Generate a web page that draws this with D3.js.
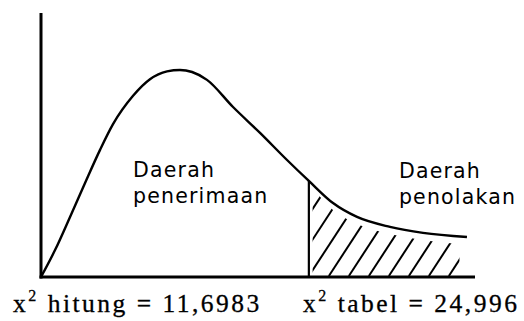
<!DOCTYPE html>
<html>
<head>
<meta charset="utf-8">
<script src="https://cdn.jsdelivr.net/npm/d3@7"></script>
<style>
  html, body { margin: 0; padding: 0; background: #fff; }
  svg { display: block; }
</style>
</head>
<body>
<div id="chart"></div>
<script>
// Chi-square (df = 15) curve as drawn
const chiX = [0, 1.31, 2.71, 4.11, 5.51, 6.72, 8.59, 10.17, 11.76, 12.97, 14.1, 15.49, 17.92, 20.44, 22.96, 24.996, 27.25, 29.49, 32.57, 35.65, 39.75];
const density = [0, 0.130, 0.290, 0.454, 0.614, 0.738, 0.875, 0.955, 0.993, 1.0, 0.99, 0.952, 0.821, 0.696, 0.565, 0.464, 0.357, 0.290, 0.242, 0.213, 0.193];

const chiTabel = 24.996;
const labelHitung = ['x', '2', ' hitung  = 11,6983'];
const labelTabel = ['x', '2', ' tabel = 24,996'];
const regionAccept = ['Daerah', 'penerimaan'];
const regionReject = ['Daerah', 'penolakan'];

const width = 524, height = 321;
const pts = chiX.map((v, i) => ({ x: v, y: density[i] }));

const svg = d3.select('#chart').append('svg')
  .attr('width', width).attr('height', height);

const x = d3.scaleLinear().domain([0, 40.5]).range([41, 475]);
const y = d3.scaleLinear().domain([0, 1.275]).range([277, 13]);

// hatched rejection region
const tail = pts.filter((d) => d.x >= chiTabel);
const area = d3.area()
  .x((d) => x(d.x)).y0(y(0)).y1((d) => y(d.y) + 7)
  .curve(d3.curveMonotoneX);
svg.append('clipPath').attr('id', 'tailClip')
  .append('path')
  .attr('d', area(tail.map((d, i) => (i === 0 ? { x: d.x + 0.35, y: d.y } : d))
    .concat([{ x: tail[tail.length - 1].x - 0.7, y: tail[tail.length - 1].y }])));

const hatchG = svg.append('g').attr('clip-path', 'url(#tailClip)');
const x0 = x(chiTabel), x1 = x(tail[tail.length - 1].x);
for (let hx = x0 - 60; hx < x1 + 20; hx += 20) {
  hatchG.append('line')
    .attr('x1', hx).attr('y1', y(0) - 1)
    .attr('x2', hx + 62).attr('y2', y(0) - 1 - 95)
    .attr('stroke', '#000').attr('stroke-width', 2);
}

// axes
svg.append('line')
  .attr('x1', x(0)).attr('x2', x(0)).attr('y1', y(1.275)).attr('y2', y(0) + 1.5)
  .attr('stroke', '#000').attr('stroke-width', 3);
svg.append('line')
  .attr('x1', x(0) - 1.5).attr('x2', x(40.5)).attr('y1', y(0)).attr('y2', y(0))
  .attr('stroke', '#000').attr('stroke-width', 3);

// critical value line
const critY = density[chiX.indexOf(chiTabel)];
svg.append('line')
  .attr('x1', x(chiTabel)).attr('x2', x(chiTabel)).attr('y1', y(critY)).attr('y2', y(0))
  .attr('stroke', '#000').attr('stroke-width', 2.2);

// curve
const line = d3.line().x((d) => x(d.x)).y((d) => y(d.y)).curve(d3.curveMonotoneX);
svg.append('path')
  .attr('d', line(pts))
  .attr('fill', 'none').attr('stroke', '#000').attr('stroke-width', 2.4);

// region labels
function regionLabel(lines, xv, baseY) {
  const t = svg.append('text')
    .attr('font-family', 'DejaVu Sans, sans-serif')
    .attr('font-size', 20.5).attr('letter-spacing', 1.2).attr('fill', '#000');
  lines.forEach((s, i) => {
    t.append('tspan').attr('x', x(xv)).attr('y', baseY + i * 25.5).text(s);
  });
}
regionLabel(regionAccept, 8.58, 177);
regionLabel(regionReject, 33.4, 178);

// bottom labels
function bottomLabel(parts, px) {
  const t = svg.append('text')
    .attr('x', px).attr('y', 312)
    .attr('font-family', 'Liberation Serif, Times New Roman, serif')
    .attr('font-size', 25.5).attr('letter-spacing', 2.5).attr('fill', '#000')
    .attr('stroke', '#000').attr('stroke-width', 0.3);
  t.append('tspan').text(parts[0]);
  t.append('tspan').attr('dy', -11).attr('font-size', 16).text(parts[1]);
  t.append('tspan').attr('dy', 11).text(parts[2]);
}
bottomLabel(labelHitung, 13);
bottomLabel(labelTabel, 303);
</script>
</body>
</html>
